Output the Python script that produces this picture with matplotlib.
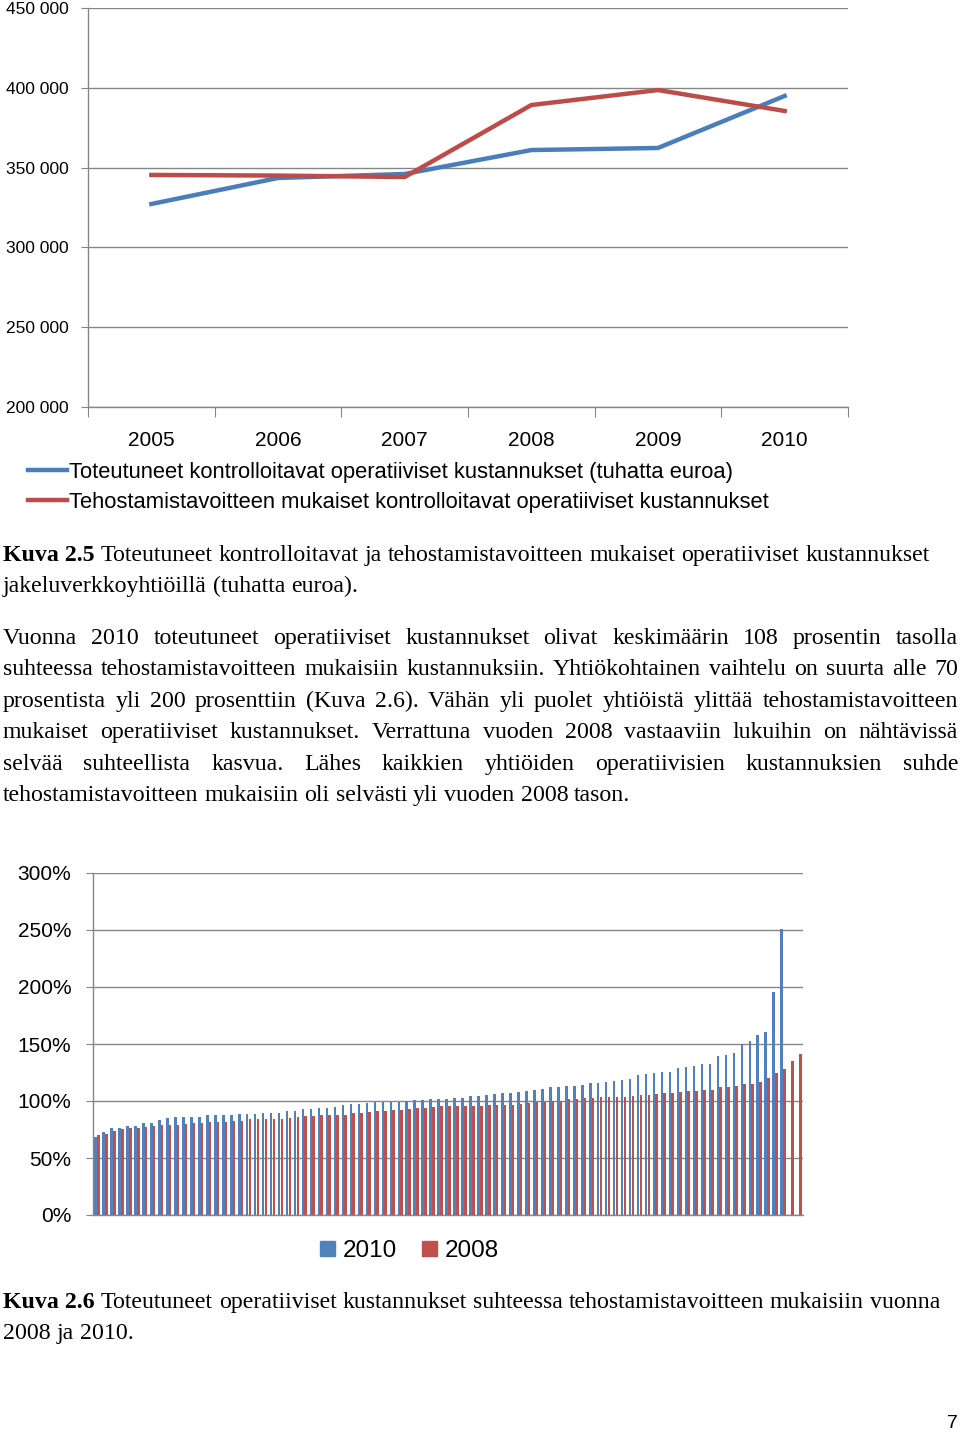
import matplotlib
matplotlib.use('Agg')
import matplotlib.pyplot as plt
import matplotlib.transforms as mtransforms
from matplotlib.lines import Line2D
from matplotlib.patches import Patch
import numpy as np

# ---------------- data ----------------
years = ['2005', '2006', '2007', '2008', '2009', '2010']
actual_costs = [327200, 343500, 346000, 361000, 362300, 394900]
target_costs = [345400, 345000, 344100, 389200, 398600, 385500]
line_labels = ['Toteutuneet kontrolloitavat operatiiviset kustannukset (tuhatta euroa)',
               'Tehostamistavoitteen mukaiset kontrolloitavat operatiiviset kustannukset']
line_yticks = [200000, 250000, 300000, 350000, 400000, 450000]

ratio_2010 = [68.7, 72.5, 76.0, 76.6, 78.4, 78.4, 80.4, 80.7, 83.3, 85.1,
              85.7, 86.0, 86.0, 86.3, 87.7, 87.7, 88.0, 88.0, 88.3, 88.9,
              88.9, 89.5, 89.5, 89.8, 91.0, 91.5, 93.0, 93.2, 93.6, 93.6,
              95.0, 96.2, 97.1, 97.1, 98.5, 99.4, 99.4, 99.4, 99.4, 100.0,
              100.6, 101.2, 101.5, 101.8, 102.0, 102.6, 102.6, 104.1, 104.4, 105.0,
              105.8, 106.7, 107.3, 107.9, 108.8, 109.4, 110.2, 112.0, 112.0, 112.9,
              113.5, 114.3, 115.8, 115.8, 116.7, 117.5, 118.4, 119.0, 122.8, 123.7,
              124.3, 125.4, 125.7, 128.7, 129.8, 130.7, 132.2, 132.2, 139.5, 140.4,
              141.8, 150.0, 152.3, 157.6, 160.2, 195.6, 250.9]
ratio_2008 = [70.2, 71.1, 74.0, 75.4, 76.0, 76.6, 77.2, 78.1, 78.7, 78.7,
              78.7, 79.8, 80.4, 80.7, 81.9, 81.9, 81.9, 82.2, 82.7, 83.9,
              84.5, 84.5, 84.5, 84.5, 85.4, 86.0, 86.8, 87.1, 87.7, 87.7,
              87.7, 88.0, 89.8, 89.8, 90.4, 91.2, 91.2, 91.8, 92.4, 93.0,
              93.6, 93.6, 94.7, 95.6, 95.6, 95.9, 95.9, 95.9, 95.9, 96.2,
              96.5, 96.8, 96.8, 97.1, 98.0, 98.8, 99.4, 99.7, 100.0, 101.5,
              102.0, 102.6, 102.9, 103.5, 103.8, 103.8, 103.8, 104.7, 105.3, 105.3,
              105.8, 106.7, 107.3, 107.6, 108.8, 109.1, 109.4, 110.0, 112.0, 112.0,
              113.5, 114.6, 114.9, 116.4, 120.5, 124.6, 127.8, 135.4, 141.0]
bar_series = ['2010', '2008']
bar_yticks = [0, 50, 100, 150, 200, 250, 300]

cap1_bold = 'Kuva 2.5'
cap1_lines = ['Toteutuneet kontrolloitavat ja tehostamistavoitteen mukaiset operatiiviset kustannukset',
              'jakeluverkkoyhtiöillä (tuhatta euroa).']
para_lines = ['Vuonna 2010 toteutuneet operatiiviset kustannukset olivat keskimäärin 108 prosentin tasolla',
              'suhteessa tehostamistavoitteen mukaisiin kustannuksiin. Yhtiökohtainen vaihtelu on suurta alle 70',
              'prosentista yli 200 prosenttiin (Kuva 2.6). Vähän yli puolet yhtiöistä ylittää tehostamistavoitteen',
              'mukaiset operatiiviset kustannukset. Verrattuna vuoden 2008 vastaaviin lukuihin on nähtävissä',
              'selvää suhteellista kasvua. Lähes kaikkien yhtiöiden operatiivisien kustannuksien suhde',
              'tehostamistavoitteen mukaisiin oli selvästi yli vuoden 2008 tason.']
cap2_bold = 'Kuva 2.6'
cap2_lines = ['Toteutuneet operatiiviset kustannukset suhteessa tehostamistavoitteen mukaisiin vuonna',
              '2008 ja 2010.']
page_no = '7'

# ---------------- style ----------------
W, H = 960, 1432
SERIF = 'Liberation Serif'
SANS = 'Liberation Sans'
BLUE_L, RED_L = '#4A7EBB', '#BE4B48'
BLUE, RED = '#4F81BD', '#C0504D'
GRID = '#868686'

fig = plt.figure(figsize=(W / 100, H / 100), dpi=100)
fig.patch.set_facecolor('white')
px = mtransforms.Affine2D().scale(1 / W, -1 / H).translate(0, 1) + fig.transFigure
renderer = fig.canvas.get_renderer()


def axes_px(l, t, r, b):
    return fig.add_axes([l / W, 1 - b / H, (r - l) / W, (b - t) / H])


def style_axes(ax):
    for s in ['top', 'right']:
        ax.spines[s].set_visible(False)
    for s in ['left', 'bottom']:
        ax.spines[s].set_color(GRID)
        ax.spines[s].set_linewidth(1.0)
    ax.grid(axis='y', color=GRID, lw=1.0)
    ax.set_axisbelow(True)
    ax.set_facecolor('none')


# ---------------- line chart ----------------
ax1 = axes_px(88, 8, 848, 407)
xc = np.arange(len(years)) + 0.5
ax1.plot(xc, actual_costs, color=BLUE_L, lw=3.2, solid_joinstyle='miter')
ax1.plot(xc, target_costs, color=RED_L, lw=3.2, solid_joinstyle='miter')
ax1.set_xlim(0, len(years))
ax1.set_ylim(line_yticks[0], line_yticks[-1])
style_axes(ax1)
ax1.set_yticks(line_yticks)
ax1.set_yticklabels([f'{v:,}'.replace(',', ' ') for v in line_yticks], family=SANS, fontsize=12.5)
ax1.tick_params(axis='y', length=5, color=GRID, pad=9)
ax1.set_xticks(np.arange(len(years) + 1))
ax1.set_xticklabels([])
ax1.set_xticks(xc, minor=True)
ax1.set_xticklabels(years, minor=True, family=SANS, fontsize=15)
ax1.tick_params(axis='x', which='major', length=7, color=GRID, direction='out')
ax1.tick_params(axis='x', which='minor', length=0, pad=17.5)

handles = [Line2D([], [], color=BLUE_L, lw=3.2), Line2D([], [], color=RED_L, lw=3.2)]
fig.legend(handles, line_labels, loc='upper left', bbox_to_anchor=(28 / W, 1 - 462 / H),
           bbox_transform=fig.transFigure, frameon=False, prop={'family': SANS, 'size': 15.8},
           handlelength=1.78, handletextpad=0.1, labelspacing=0.39, borderpad=0, borderaxespad=0)

# ---------------- bar chart ----------------
ax2 = axes_px(93, 873, 803, 1215)
n_cat = max(len(ratio_2010), len(ratio_2008))
bw, off = 0.32, 0.17
ax2.bar(np.arange(len(ratio_2010)) - off, ratio_2010, width=bw, color=BLUE, label=bar_series[0])
ax2.bar(np.arange(len(ratio_2008)) + off, ratio_2008, width=bw, color=RED, label=bar_series[1])
ax2.set_xlim(-0.5, n_cat - 0.5)
ax2.set_ylim(bar_yticks[0], bar_yticks[-1])
style_axes(ax2)
ax2.set_yticks(bar_yticks)
ax2.set_yticklabels([f'{v}%' for v in bar_yticks], family=SANS, fontsize=15)
ax2.tick_params(axis='y', length=5, color=GRID, pad=10.5)
ax2.set_xticks([])

fig.legend(handles=[Patch(color=BLUE), Patch(color=RED)], labels=bar_series, loc='upper left',
           bbox_to_anchor=(320 / W, 1 - 1240 / H), bbox_transform=fig.transFigure, ncol=2,
           frameon=False, prop={'family': SANS, 'size': 17.5}, handlelength=0.6, handleheight=0.6,
           handletextpad=0.33, columnspacing=1.05, borderpad=0, borderaxespad=0)

# ---------------- text ----------------

def measure(s, size, weight='normal'):
    t = fig.text(0, 0, s, fontsize=size, fontweight=weight, family=SERIF)
    w = t.get_window_extent(renderer).width
    t.remove()
    return w


def space_w(size):
    return measure('n n', size) - measure('nn', size)


base = 16.0
total = measure(cap1_bold, base, 'bold') + space_w(base) + measure(cap1_lines[0], base)
FS = base * (930 - 3) / total


def put_words(words, y, x0=3, x1=958, justify=False):
    ws = [measure(w, FS, wt) for w, wt in words]
    if justify and len(words) > 1:
        gap = (x1 - x0 - sum(ws)) / (len(words) - 1)
    else:
        gap = space_w(FS)
    x = x0
    for (w, wt), wd in zip(words, ws):
        fig.text(x, y, w, transform=px, fontsize=FS, fontweight=wt, family=SERIF,
                 va='baseline', ha='left')
        x += wd + gap


def words_of(line, bold_prefix=None):
    out = []
    if bold_prefix:
        out.append((bold_prefix, 'bold'))
    out += [(w, 'normal') for w in line.split(' ')]
    return out


BL = 7
put_words(words_of(cap1_lines[0], cap1_bold), 554 + BL)
put_words(words_of(cap1_lines[1]), 585 + BL)
para_y = [637, 668, 700, 731, 763, 794]
for i, (line, y) in enumerate(zip(para_lines, para_y)):
    put_words(words_of(line), y + BL, justify=(i < len(para_lines) - 1))
put_words(words_of(cap2_lines[0], cap2_bold), 1301 + BL)
put_words(words_of(cap2_lines[1]), 1332 + BL)

fig.text(952, 1423, page_no, transform=px, family=SANS, fontsize=14, ha='center', va='center')

fig.savefig('out.png', dpi=100, facecolor='white')
